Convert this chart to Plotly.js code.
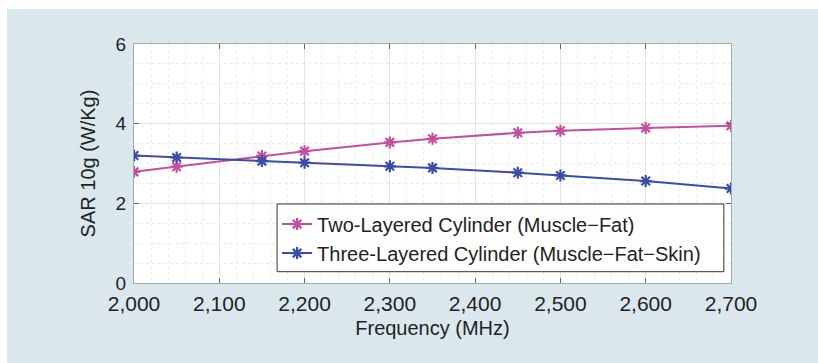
<!DOCTYPE html>
<html>
<head>
<meta charset="utf-8">
<script src="https://cdn.plot.ly/plotly-3.0.1.min.js"></script>
<style>
html, body { margin: 0; padding: 0; background: #ffffff; width: 818px; height: 363px; overflow: hidden; }
#chart { position: absolute; left: 7px; top: 9px; width: 811px; height: 354px; }
</style>
</head>
<body>
<div id="chart"></div>
<script>
const frequency = [2000, 2050, 2150, 2200, 2300, 2350, 2450, 2500, 2600, 2700];
const twoLayered = [2.79, 2.92, 3.19, 3.31, 3.53, 3.62, 3.77, 3.82, 3.89, 3.95];
const threeLayered = [3.20, 3.15, 3.06, 3.02, 2.93, 2.89, 2.77, 2.70, 2.56, 2.37];
const seriesNames = ["Two-Layered Cylinder (Muscle\u2212Fat)", "Three-Layered Cylinder (Muscle\u2212Fat\u2212Skin)"];
const xTickVals = [2000, 2100, 2200, 2300, 2400, 2500, 2600, 2700];
const xTickText = ["2,000", "2,100", "2,200", "2,300", "2,400", "2,500", "2,600", "2,700"];
const yTickVals = [0, 2, 4, 6];

const pink = "#c2509f";
const blue = "#3a4da5";
const FONT = "Liberation Sans, Arial, sans-serif";

const traces = [
  {
    x: frequency, y: twoLayered, name: seriesNames[0], type: "scatter", mode: "lines+markers",
    line: { color: pink, width: 2 },
    marker: { symbol: "asterisk-open", size: 10, color: pink, line: { color: pink, width: 2.2 } }
  },
  {
    x: frequency, y: threeLayered, name: seriesNames[1], type: "scatter", mode: "lines+markers",
    line: { color: blue, width: 2 },
    marker: { symbol: "asterisk-open", size: 10, color: blue, line: { color: blue, width: 2.2 } }
  }
];

const axisCommon = {
  showline: true, linecolor: "#a8a8a8", linewidth: 1, mirror: "ticks",
  ticks: "inside", ticklen: 5, tickcolor: "#666", tickwidth: 1,
  showgrid: true, gridcolor: "#e3e3e3", gridwidth: 1,
  zeroline: false
};

const layout = {
  width: 811, height: 354,
  paper_bgcolor: "#dae8ee",
  plot_bgcolor: "#ffffff",
  margin: { l: 127, r: 87, t: 35, b: 80 },
  showlegend: true,
  xaxis: Object.assign({}, axisCommon, {
    range: [2000, 2700],
    tickmode: "array", tickvals: xTickVals, ticktext: xTickText,
    tickfont: { family: FONT, size: 21, color: "#222" },
    ticklabelstandoff: 2,
    minor: { dtick: 20, showgrid: true, gridcolor: "#ececec", griddash: "dot", gridwidth: 1, ticks: "" },
    title: { text: "Frequency (MHz)", font: { family: FONT, size: 20, color: "#222" }, standoff: 6 }
  }),
  yaxis: Object.assign({}, axisCommon, {
    range: [0, 6],
    tickmode: "array", tickvals: yTickVals,
    tickfont: { family: FONT, size: 19, color: "#222" },
    ticklabelstandoff: 3,
    minor: { dtick: 0.5, showgrid: true, gridcolor: "#ececec", griddash: "dot", gridwidth: 1, ticks: "" },
    title: { text: "SAR 10g (W/Kg)", font: { family: FONT, size: 20, color: "#222" }, standoff: 14 }
  }),
  shapes: [{
    type: "rect", xref: "paper", yref: "paper", layer: "above",
    x0: 0.2397, x1: 0.988, y0: 0.0473, y1: 0.3305,
    fillcolor: "#ffffff", line: { color: "#333", width: 1 }
  }],
  legend: {
    x: 0.2397, y: 0.328, xanchor: "left", yanchor: "top",
    bgcolor: "rgba(0,0,0,0)", borderwidth: 0,
    font: { family: FONT, size: 20, color: "#222" },
    tracegroupgap: 0
  }
};

Plotly.newPlot("chart", traces, layout, { displayModeBar: false, staticPlot: true });
</script>
</body>
</html>
